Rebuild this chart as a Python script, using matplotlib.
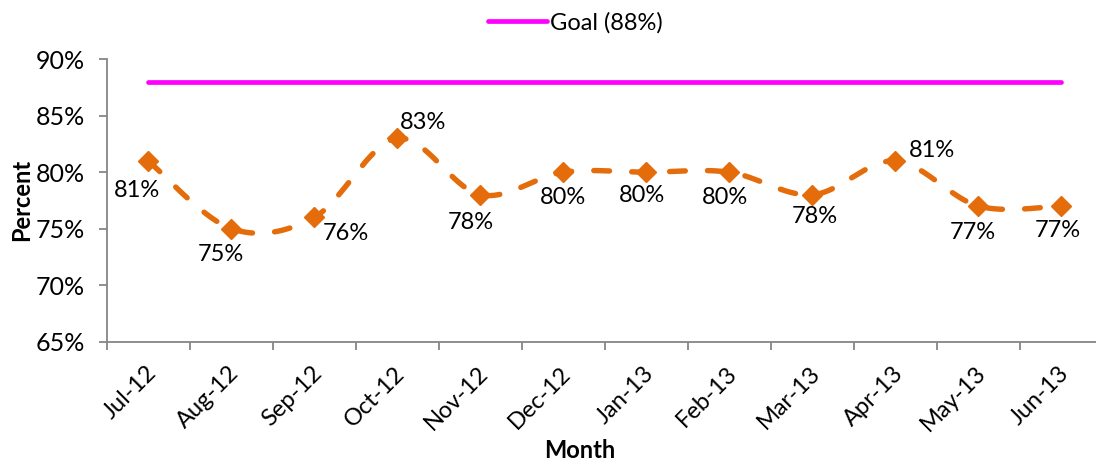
import numpy as np
import matplotlib.pyplot as plt
import matplotlib.transforms as mtransforms

plt.rcParams['font.family'] = ['Lato', 'DejaVu Sans']

months = ['Jul-12', 'Aug-12', 'Sep-12', 'Oct-12', 'Nov-12', 'Dec-12',
          'Jan-13', 'Feb-13', 'Mar-13', 'Apr-13', 'May-13', 'Jun-13']
percent = [81, 75, 76, 83, 78, 80, 80, 80, 78, 81, 77, 77]
goal = 88

# where each value label sits relative to its marker (pixels)
label_offsets = [(-11, -30), (-10, -26), (32, -16), (26, 16), (-9, -28), (0, -25),
                 (-4, -23), (-4, -25), (3, -22), (37, 10), (-5, -26), (-3, -24)]

orange = '#E46C0A'
magenta = '#FF00FF'
grey = '#868686'


def smooth(x, y, n=40):
    # piecewise cubic bezier through the points, control points from neighbours
    x = np.asarray(x, float)
    y = np.asarray(y, float)
    px = np.concatenate([[x[0]], x, [x[-1]]])
    py = np.concatenate([[y[0]], y, [y[-1]]])
    t = np.linspace(0, 1, n)
    xs, ys = [], []
    for i in range(1, len(px) - 2):
        p0 = np.array([px[i], py[i]])
        p3 = np.array([px[i + 1], py[i + 1]])
        p1 = p0 + (np.array([px[i + 1], py[i + 1]]) - np.array([px[i - 1], py[i - 1]])) / 6
        p2 = p3 - (np.array([px[i + 2], py[i + 2]]) - np.array([px[i], py[i]])) / 6
        b = ((1 - t) ** 3)[:, None] * p0 + (3 * (1 - t) ** 2 * t)[:, None] * p1 \
            + (3 * (1 - t) * t ** 2)[:, None] * p2 + (t ** 3)[:, None] * p3
        xs.append(b[:, 0])
        ys.append(b[:, 1])
    return np.concatenate(xs), np.concatenate(ys)


x = np.arange(len(months))
sx, sy = smooth(x, percent)

fig = plt.figure(figsize=(10.96, 4.62), dpi=100)
ax = fig.add_axes([0.0974, 0.2608, 0.9088, 0.6108])

goal_line, = ax.plot(x, [goal] * len(x), color=magenta, lw=3.4, solid_capstyle='round',
                     label='Goal (88%)')
ax.plot(sx, sy, color=orange, lw=3.9, dashes=(2.9, 4.1), dash_capstyle='round')
ax.plot(x, percent, linestyle='none', marker='D', markersize=10, color=orange)

for xi, v, (dx, dy) in zip(x, percent, label_offsets):
    ax.annotate(f'{v}%', (xi, v), xytext=(dx, dy), textcoords='offset pixels',
                ha='center', va='center', fontsize=17, color='black')

ax.set_xlim(-0.5, len(months) - 0.5)
ax.set_ylim(65, 90)
ax.set_yticks(range(65, 91, 5))
ax.set_yticklabels([f'{v}%' for v in range(65, 91, 5)], fontsize=18)
ax.set_xticks(np.arange(len(months) + 1) - 0.5)
ax.set_xticklabels([])
ax.tick_params(axis='x', length=6, width=1.3, color=grey)
ax.tick_params(axis='y', length=6, width=1.3, color=grey, pad=10)

# month names, slanted, hanging below each category
shift = mtransforms.ScaledTranslation(-3 / 100, -21 / 100, fig.dpi_scale_trans)
for xi, m in zip(x, months):
    ax.text(xi, 0, m, transform=ax.get_xaxis_transform() + shift, rotation=45,
            ha='right', va='top', rotation_mode='anchor', fontsize=17)

for side in ['top', 'right']:
    ax.spines[side].set_visible(False)
for side in ['left', 'bottom']:
    ax.spines[side].set_color(grey)
    ax.spines[side].set_linewidth(1.3)

ax.set_ylabel('Percent', fontsize=17, fontweight='bold', va='center')
ax.yaxis.set_label_coords(-0.085, 0.5)
ax.set_xlabel('Month', fontsize=17, fontweight='bold', va='center')
ax.xaxis.set_label_coords(0.475, -0.385)

fig.legend(handles=[goal_line], loc='upper center', bbox_to_anchor=(0.525, 1.02),
           frameon=False, fontsize=17, handlelength=2.5, handletextpad=0.15)

fig.savefig('out.png', dpi=100)
